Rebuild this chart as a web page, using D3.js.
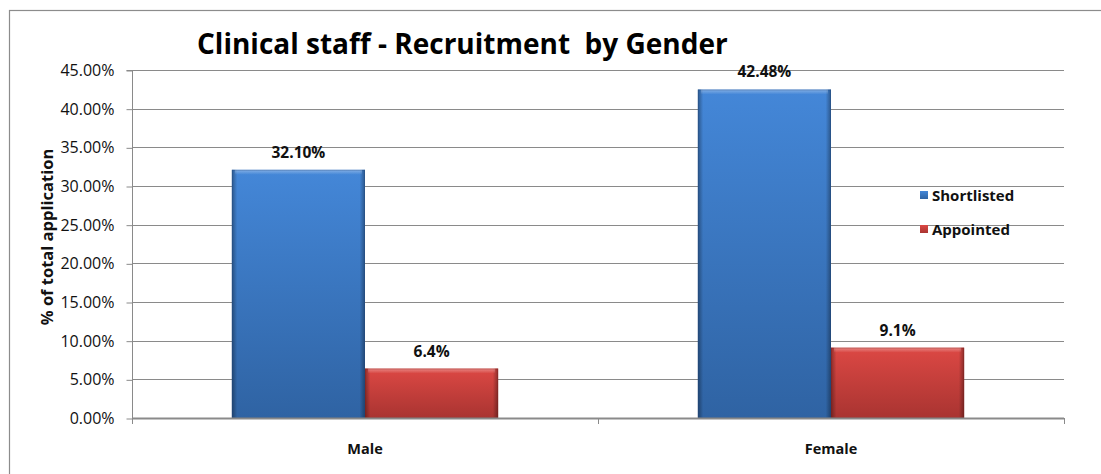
<!DOCTYPE html>
<html><head><meta charset="utf-8">
<script src="https://cdn.jsdelivr.net/npm/d3@7"></script>
<style>body{margin:0;background:#fff}svg{display:block}text{white-space:pre}</style>
</head><body>
<script>
const categories = ["Male", "Female"];
const seriesNames = ["Shortlisted", "Appointed"];
const shortlisted = [32.10, 42.48];
const appointed = [6.4, 9.1];
const valueLabels = [["32.10%", "42.48%"], ["6.4%", "9.1%"]];
const yTicks = [0, 5, 10, 15, 20, 25, 30, 35, 40, 45];
const title = "Clinical staff - Recruitment  by Gender";
const yTitle = "% of total application";

const W = 1101, H = 474;
const svg = d3.select("body").append("svg").attr("width", W).attr("height", H);
const font = "'Open Sans', 'Liberation Sans', sans-serif";
const defs = svg.append("defs");

function makeGrad(id, top, bottom) {
  const g = defs.append("linearGradient").attr("id", id).attr("x1", 0).attr("y1", 0).attr("x2", 0).attr("y2", 1);
  g.append("stop").attr("offset", "0%").attr("stop-color", top);
  g.append("stop").attr("offset", "100%").attr("stop-color", bottom);
}
makeGrad("gBlue", "#4487d8", "#2f63a3");
makeGrad("gRed", "#dc4844", "#a93431");
const edge = defs.append("linearGradient").attr("id", "gEdge").attr("x1", 0).attr("y1", 0).attr("x2", 1).attr("y2", 0);
edge.append("stop").attr("offset", "0%").attr("stop-color", "#000").attr("stop-opacity", 0.35);
edge.append("stop").attr("offset", "4%").attr("stop-color", "#000").attr("stop-opacity", 0);
edge.append("stop").attr("offset", "96%").attr("stop-color", "#000").attr("stop-opacity", 0);
edge.append("stop").attr("offset", "100%").attr("stop-color", "#000").attr("stop-opacity", 0.35);
const topHi = defs.append("linearGradient").attr("id", "gTop").attr("x1", 0).attr("y1", 0).attr("x2", 0).attr("y2", 1);
topHi.append("stop").attr("offset", "0%").attr("stop-color", "#fff").attr("stop-opacity", 0.35);
topHi.append("stop").attr("offset", "100%").attr("stop-color", "#fff").attr("stop-opacity", 0);

// outer frame
svg.append("rect").attr("x", 9.5).attr("y", 10.5).attr("width", 1200).attr("height", 600)
  .attr("fill", "none").attr("stroke", "#8c8c8c").attr("stroke-width", 1.2);

const x0 = 132, x1 = 1064, yTop = 70, yBot = 418;
const y = d3.scaleLinear().domain([0, 45]).range([yBot, yTop]);
const xBand = d3.scaleBand().domain(categories).range([x0, x1]).paddingInner(0).paddingOuter(0);
const barW = xBand.bandwidth() / 3.5;
const xSub = d3.scaleBand().domain(seriesNames).range([0.75 * barW, 0.75 * barW + 2 * barW]);

// gridlines
svg.append("g").selectAll("line").data(yTicks.filter(d => d > 0)).join("line")
  .attr("x1", x0).attr("x2", x1).attr("y1", d => Math.round(y(d)) + 0.5).attr("y2", d => Math.round(y(d)) + 0.5)
  .attr("stroke", "#8a8a8a").attr("stroke-width", 1.2);

// y axis
const yAxis = d3.axisLeft(y).tickValues(yTicks).tickSize(6).tickPadding(12).tickFormat(d => d.toFixed(2) + "%");
const ga = svg.append("g").attr("transform", `translate(${x0 + 0.5},0.5)`).call(yAxis);
ga.select(".domain").attr("stroke", "#8a8a8a").attr("d", `M-6,${yTop}H0V${yBot}`);
ga.selectAll(".tick line").attr("stroke", "#8a8a8a");
ga.selectAll(".tick text").attr("font-family", font).attr("font-size", 16).attr("fill", "#111");

// bars
const data = categories.map((c, i) => ({ c, vals: [shortlisted[i], appointed[i]] }));
const grads = ["url(#gBlue)", "url(#gRed)"];
const darkEdge = ["#214b80", "#7e2220"];
data.forEach((d, i) => {
  d.vals.forEach((v, j) => {
    const bx = xBand(d.c) + xSub(seriesNames[j]);
    const by = y(v), bh = yBot - y(v);
    const g = svg.append("g");
    g.append("rect").attr("x", bx).attr("y", by).attr("width", barW).attr("height", bh).attr("fill", grads[j]);
    g.append("rect").attr("x", bx).attr("y", by).attr("width", barW).attr("height", bh).attr("fill", "url(#gEdge)");
    g.append("rect").attr("x", bx + 3).attr("y", by).attr("width", barW - 6).attr("height", 5).attr("fill", "url(#gTop)");
    g.append("rect").attr("x", bx + 0.5).attr("y", by + 0.5).attr("width", barW - 1).attr("height", bh - 1)
      .attr("fill", "none").attr("stroke", darkEdge[j]).attr("stroke-opacity", 0.35);
    svg.append("text").attr("x", bx + barW / 2).attr("y", by - 12).attr("text-anchor", "middle")
      .attr("font-family", font).attr("font-weight", "bold").attr("font-size", 15.5).attr("fill", "#111")
      .text(valueLabels[j][i]);
  });
});

// x axis
const gx = svg.append("g").attr("transform", `translate(0,${yBot})`);
gx.append("line").attr("x1", x0).attr("x2", x1).attr("y1", 0.5).attr("y2", 0.5).attr("stroke", "#8a8a8a").attr("stroke-width", 2);
gx.selectAll("line.t").data([x0, ...categories.map(c => xBand(c) + xBand.bandwidth())]).join("line").attr("class", "t")
  .attr("x1", d => d + 0.5).attr("x2", d => d + 0.5).attr("y1", 0).attr("y2", 6).attr("stroke", "#8a8a8a");
gx.selectAll("text").data(categories).join("text")
  .attr("x", d => xBand(d) + xBand.bandwidth() / 2).attr("y", 36).attr("text-anchor", "middle")
  .attr("font-family", font).attr("font-weight", "bold").attr("font-size", 14.5).attr("fill", "#111").text(d => d);

// title
svg.append("text").attr("x", 197).attr("y", 54).attr("font-family", font).attr("font-weight", "bold")
  .attr("font-size", 28).attr("fill", "#000").text(title);

// y title
svg.append("text").attr("transform", `translate(53,${(yTop + yBot) / 2 - 7}) rotate(-90)`).attr("text-anchor", "middle")
  .attr("font-family", font).attr("font-weight", "bold").attr("font-size", 16.5).attr("fill", "#111").text(yTitle);

// legend
const lg = svg.append("g").attr("transform", "translate(920,191)");
seriesNames.forEach((s, j) => {
  const r = lg.append("g").attr("transform", `translate(0,${j * 34})`);
  r.append("rect").attr("width", 8).attr("height", 8).attr("fill", grads[j]);
  r.append("text").attr("x", 12).attr("y", 10).attr("font-family", font).attr("font-weight", "bold")
    .attr("font-size", 15).attr("fill", "#111").text(s);
});
</script>
</body></html>
